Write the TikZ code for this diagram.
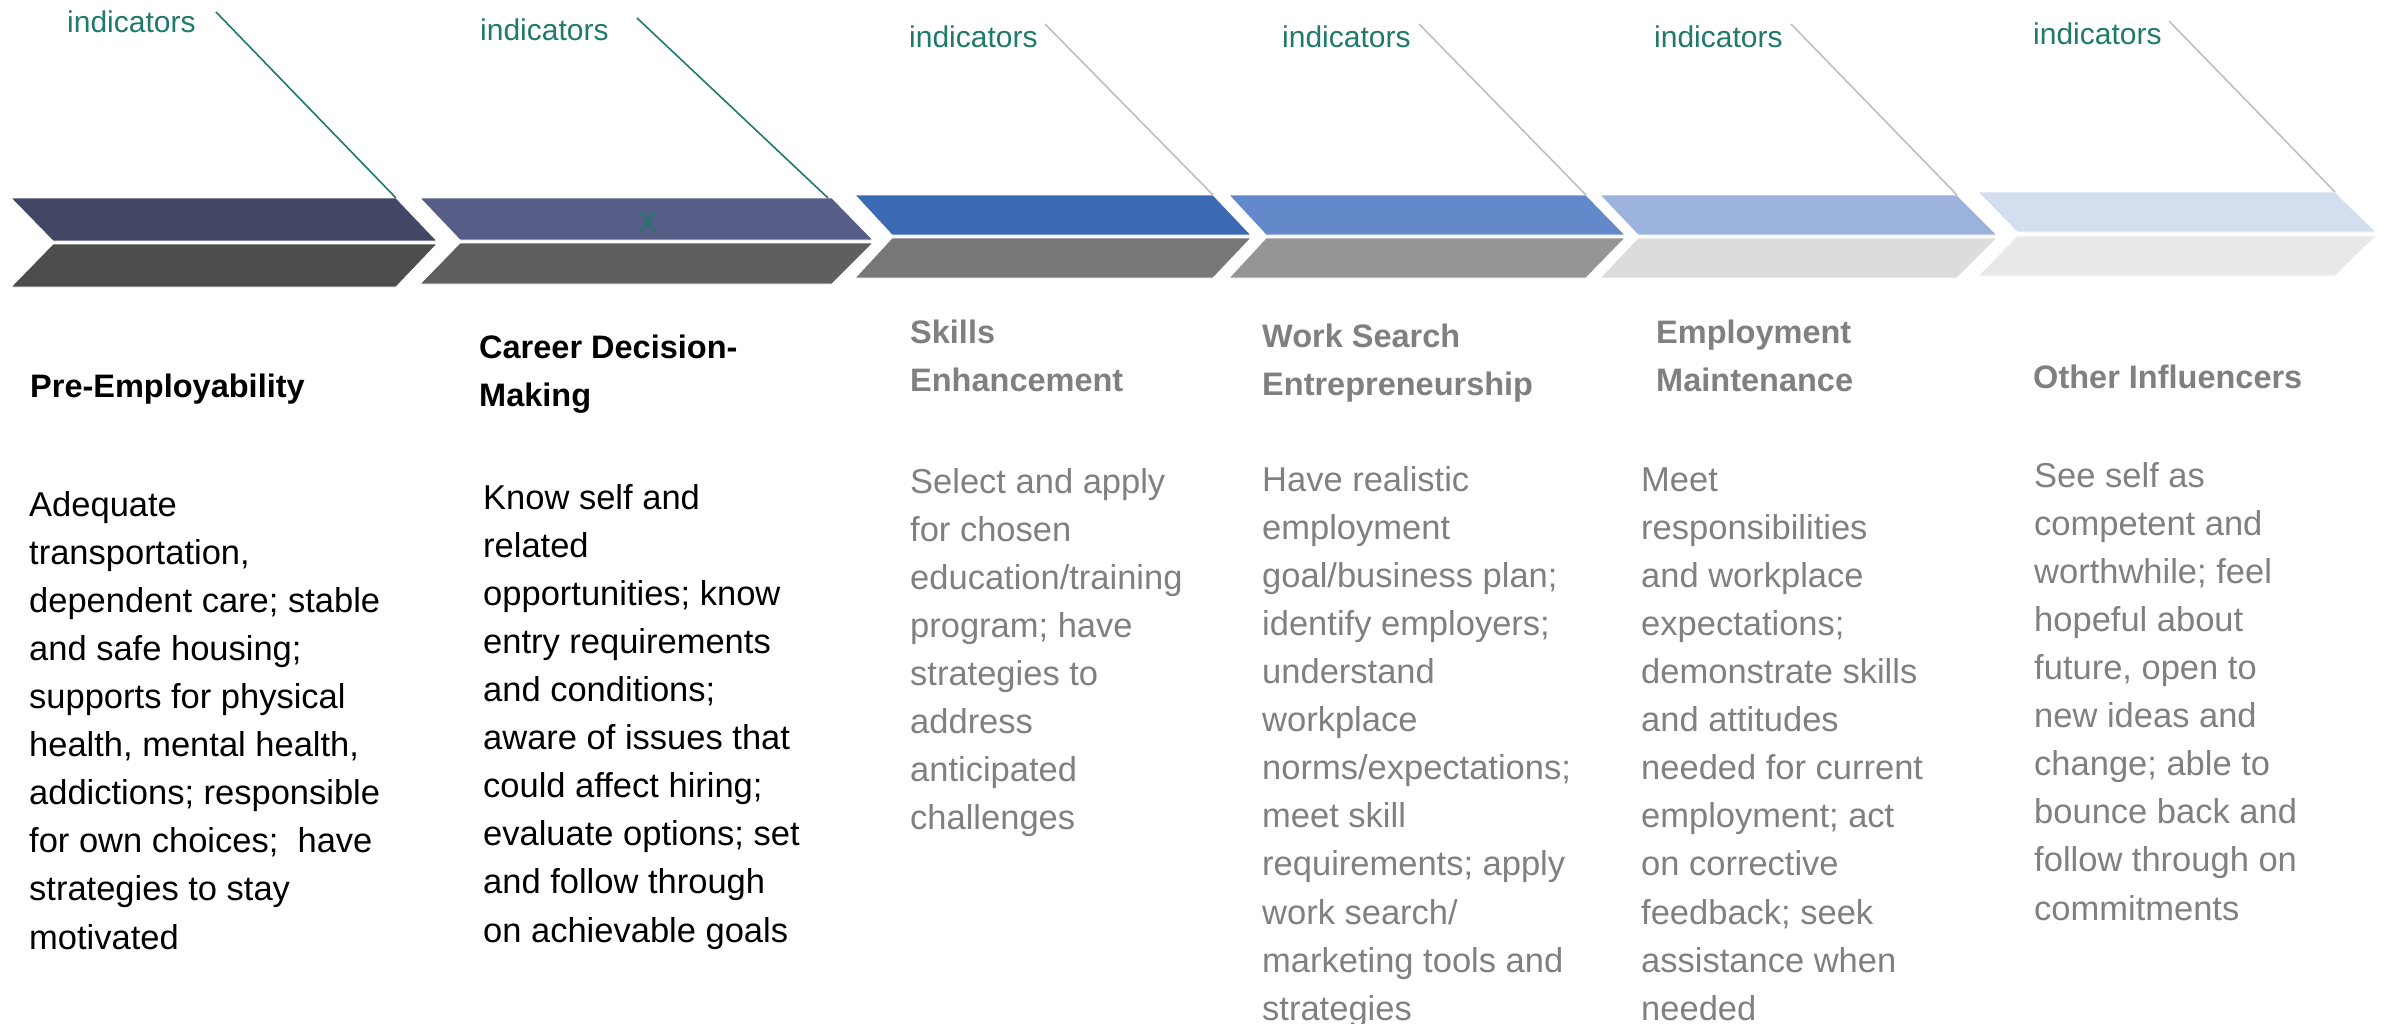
\documentclass[tikz,border=0pt]{standalone}
\usepackage{fontspec}
\setmainfont{Liberation Sans}
\definecolor{indgreen}{RGB}{31,122,108}
\definecolor{txtgray}{RGB}{128,128,128}
\definecolor{lnkgray}{RGB}{191,191,191}
\definecolor{ua}{RGB}{67,71,102}
\definecolor{ub}{RGB}{86,93,135}
\definecolor{uc}{RGB}{60,105,179}
\definecolor{ud}{RGB}{99,137,203}
\definecolor{ue}{RGB}{155,179,221}
\definecolor{uf}{RGB}{211,222,239}
\definecolor{la}{RGB}{77,77,77}
\definecolor{lb}{RGB}{95,95,95}
\definecolor{lc}{RGB}{119,119,119}
\definecolor{ld}{RGB}{149,149,149}
\definecolor{le}{RGB}{220,220,220}
\definecolor{lf}{RGB}{232,232,232}
\newcommand\bodyfnt{\fontsize{34.5}{48.1}\selectfont}
\newcommand\titlefnt{\fontsize{32.5}{48}\selectfont\bfseries}
\tikzset{
  bodytext/.style={anchor=north west, inner sep=0pt, align=left, font=\bodyfnt},
  titletext/.style={anchor=north west, inner sep=0pt, align=left, font=\titlefnt},
  indtext/.style={anchor=base west, inner sep=0pt, font=\fontsize{30}{36}\selectfont, text=indgreen},
  greenlink/.style={draw=indgreen, line width=1.6pt},
  graylink/.style={draw=lnkgray, line width=1.6pt},
  band/.style={draw=white, line width=0.8pt}
}
\begin{document}
\begin{tikzpicture}[x=1pt,y=-1pt]
\useasboundingbox (0,0) rectangle (2387,1023);
% chevron 1
\fill[ua,band] (11,198) -- (396,198) coordinate (c1tr) -- (437,241) -- (53,241) -- cycle;
\fill[la,band] (53,244) -- (437,244) -- (396,287) -- (11,287) -- cycle;
% chevron 2
\fill[ub,band] (420,198) -- (832,198) coordinate (c2tr) -- (873,240) -- (460,240) -- cycle;
\fill[lb,band] (460,243) -- (873,243) -- (832,284) -- (420,284) -- cycle;
% chevron 3
\fill[uc,band] (855,195) -- (1213,195) coordinate (c3tr) -- (1251,235) -- (892,235) -- cycle;
\fill[lc,band] (892,238) -- (1251,238) -- (1213,278) -- (855,278) -- cycle;
% chevron 4
\fill[ud,band] (1229,195) -- (1586,195) coordinate (c4tr) -- (1625,235) -- (1266,235) -- cycle;
\fill[ld,band] (1266,238) -- (1625,238) -- (1586,278) -- (1229,278) -- cycle;
% chevron 5
\fill[ue,band] (1600,195) -- (1957,195) coordinate (c5tr) -- (1997,235) -- (1638,235) -- cycle;
\fill[le,band] (1638,238) -- (1997,238) -- (1957,278) -- (1600,278) -- cycle;
% chevron 6
\fill[uf,band] (1978,192) -- (2335,192) coordinate (c6tr) -- (2376,232) -- (2017,232) -- cycle;
\fill[lf,band] (2017,236) -- (2376,236) -- (2335,276) -- (1978,276) -- cycle;

\node[anchor=base, inner sep=0pt, font=\fontsize{29}{34}\selectfont, text=indgreen] (xmark) at (648,232) {X};

% indicators
\node[indtext] (ind1) at (67,32) {indicators};
\node[indtext] (ind2) at (480,40) {indicators};
\node[indtext] (ind3) at (909,47) {indicators};
\node[indtext] (ind4) at (1282,47) {indicators};
\node[indtext] (ind5) at (1654,47) {indicators};
\node[indtext] (ind6) at (2033,44) {indicators};
\coordinate (s1) at (216,12);
\coordinate (s2) at (637,18);
\coordinate (s3) at (1045,24);
\coordinate (s4) at (1419,24);
\coordinate (s5) at (1791,24);
\coordinate (s6) at (2169,21);
\draw[greenlink] (s1) -- (c1tr);
\draw[greenlink] (s2) -- ([xshift=-4pt]c2tr);
\draw[graylink] (s3) -- (c3tr);
\draw[graylink] (s4) -- (c4tr);
\draw[graylink] (s5) -- (c5tr);
\draw[graylink] (s6) -- (c6tr);

% titles
\node[titletext] (t1) at (30,363.4) {\strut Pre-Employability};
\node[titletext] (t2) at (479,324.4) {\strut Career Decision-\\Making};
\node[titletext, text=txtgray] (t3) at (910,309.4) {\strut Skills\\Enhancement};
\node[titletext, text=txtgray] (t4) at (1262,313.4) {\strut Work Search\\Entrepreneurship};
\node[titletext, text=txtgray] (t5) at (1656,309.4) {\strut Employment\\Maintenance};
\node[titletext, text=txtgray] (t6) at (2033,354.4) {\strut Other Influencers};

% bodies
\node[bodytext] (b1) at (29,482.3) {\strut Adequate\\transportation,\\dependent care; stable\\and safe housing;\\supports for physical\\health, mental health,\\addictions; responsible\\for own choices;\ \ have\\strategies to stay\\motivated};
\node[bodytext] (b2) at (483,475.3) {\strut Know self and\\related\\opportunities; know\\entry requirements\\and conditions;\\aware of issues that\\could affect hiring;\\evaluate options; set\\and follow through\\on achievable goals};
\node[bodytext, text=txtgray] (b3) at (910,459.3) {\strut Select and apply\\for chosen\\education/training\\program; have\\strategies to\\address\\anticipated\\challenges};
\node[bodytext, text=txtgray] (b4) at (1262,457.3) {\strut Have realistic\\employment\\goal/business plan;\\identify employers;\\understand\\workplace\\norms/expectations;\\meet skill\\requirements; apply\\work search/\\marketing tools and\\strategies};
\node[bodytext, text=txtgray] (b5) at (1641,457.3) {\strut Meet\\responsibilities\\and workplace\\expectations;\\demonstrate skills\\and attitudes\\needed for current\\employment; act\\on corrective\\feedback; seek\\assistance when\\needed};
\node[bodytext, text=txtgray] (b6) at (2034,453.3) {\strut See self as\\competent and\\worthwhile; feel\\hopeful about\\future, open to\\new ideas and\\change; able to\\bounce back and\\follow through on\\commitments};
\end{tikzpicture}
\end{document}
